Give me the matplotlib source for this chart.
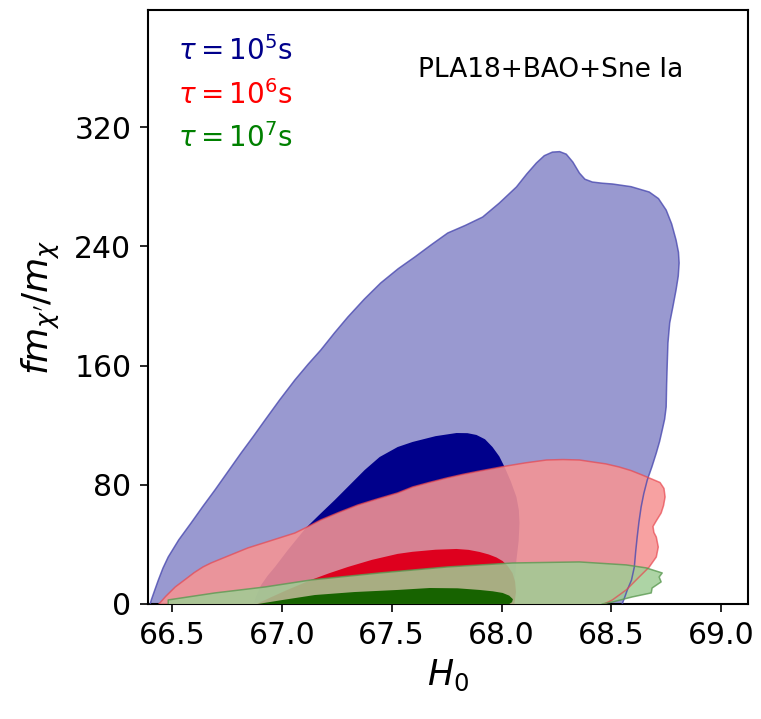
import numpy as np
import matplotlib
matplotlib.use("Agg")
import matplotlib.pyplot as plt

# 2D posterior contours (H0, f m_chi'/m_chi) for three lifetimes
# outer = 95% region, inner = 68% region

# tau = 1e5 s
blue_2s_h0 = [66.400, 66.405, 66.420, 66.437, 66.458, 66.482, 66.530, 66.586, 66.640, 66.695,
              66.755, 66.814, 66.870, 66.923, 66.990, 67.059, 67.120, 67.177, 67.240, 67.300,
              67.375, 67.450, 67.530, 67.605, 67.680, 67.755, 67.835, 67.914, 67.990, 68.068,
              68.115, 68.159, 68.195, 68.232, 68.265, 68.295, 68.325, 68.355, 68.380, 68.414,
              68.460, 68.505, 68.590, 68.673, 68.715, 68.750, 68.775, 68.795, 68.806, 68.809,
              68.805, 68.795, 68.780, 68.766, 68.758, 68.755, 68.752, 68.750, 68.743, 68.732,
              68.720, 68.705, 68.685, 68.664, 68.648, 68.636, 68.626, 68.618, 68.611, 68.605,
              68.592, 68.573, 68.560, 68.550]
blue_2s_f = [0.0, 2.7, 9.0, 16.0, 24.0, 31.5, 43.0, 54.3, 65.5, 76.5,
             89.0, 101.3, 112.5, 123.4, 137.0, 150.3, 161.0, 170.4, 182.0, 192.5,
             204.5, 215.4, 225.0, 232.8, 241.0, 248.9, 254.0, 259.6, 269.0, 279.8,
             288.5, 295.9, 300.8, 303.2, 303.5, 301.8, 296.5, 289.1, 285.0, 283.1,
             282.3, 281.8, 280.0, 276.4, 272.0, 264.3, 255.0, 244.2, 236.0, 228.8,
             220.0, 210.7, 199.0, 188.5, 175.0, 161.7, 147.0, 132.2, 124.0, 116.7,
             109.0, 101.3, 92.0, 83.2, 74.0, 65.1, 55.0, 44.9, 35.0, 24.8,
             16.0, 9.4, 4.0, 0.0]
blue_1s_h0 = [66.870, 66.885, 66.905, 66.935, 66.968, 67.027, 67.070, 67.109, 67.175, 67.241,
              67.310, 67.377, 67.445, 67.527, 67.595, 67.700, 67.795, 67.845, 67.886, 67.925,
              67.959, 67.990, 68.014, 68.043, 68.068, 68.079, 68.082, 68.078, 68.068, 68.063,
              68.059, 68.052, 68.045]
blue_1s_f = [0.0, 6.0, 12.7, 19.0, 24.8, 36.2, 44.0, 51.0, 60.5, 69.8,
             80.0, 89.9, 98.6, 105.3, 108.7, 112.6, 114.7, 114.6, 113.4, 110.5,
             105.3, 99.0, 91.9, 82.0, 71.8, 63.0, 54.3, 42.0, 29.5, 20.0,
             11.4, 5.0, 0.0]

# tau = 1e6 s
red_2s_h0 = [66.440, 66.470, 66.514, 66.560, 66.600, 66.640, 66.677, 66.760, 66.845, 66.950,
             67.059, 67.120, 67.177, 67.260, 67.345, 67.435, 67.527, 67.595, 67.670, 67.750,
             67.825, 67.900, 68.023, 68.110, 68.205, 68.280, 68.355, 68.414, 68.475, 68.536,
             68.590, 68.641, 68.690, 68.722, 68.740, 68.745, 68.738, 68.727, 68.706, 68.690,
             68.694, 68.705, 68.714, 68.705, 68.673, 68.627, 68.568, 68.505, 68.468]
red_2s_f = [0.0, 5.0, 11.4, 16.5, 21.0, 24.8, 27.5, 32.5, 37.6, 42.5,
            47.6, 52.0, 56.4, 61.5, 66.4, 70.5, 74.5, 78.5, 81.5, 84.5,
            87.0, 89.2, 92.6, 94.7, 96.6, 96.9, 96.6, 95.3, 94.0, 91.9,
            89.5, 86.5, 83.5, 81.5, 77.5, 71.8, 66.0, 61.0, 56.0, 52.0,
            48.0, 44.9, 38.2, 31.5, 24.8, 18.1, 9.4, 2.7, 0.0]
red_1s_h0 = [66.885, 66.950, 67.030, 67.132, 67.215, 67.300, 67.410, 67.527, 67.595, 67.700,
             67.795, 67.850, 67.900, 67.942, 67.977, 68.005, 68.028, 68.050, 68.062, 68.066,
             68.059]
red_1s_f = [0.0, 4.5, 9.8, 16.1, 20.6, 24.8, 29.6, 33.6, 35.0, 36.4,
            36.9, 36.3, 34.9, 33.2, 31.2, 28.8, 25.5, 20.8, 15.0, 8.0,
            0.0]

# tau = 1e7 s
green_2s_h0 = [66.482, 66.482, 66.695, 66.923, 67.132, 67.445, 67.750, 68.050, 68.355, 68.568,
               68.659, 68.732, 68.718, 68.727, 68.686, 68.682, 68.595, 68.505, 68.459]
green_2s_f = [0.0, 2.7, 7.4, 11.4, 16.1, 20.8, 24.8, 27.5, 28.2, 26.2,
              24.2, 20.8, 18.1, 14.8, 10.7, 7.4, 4.7, 1.3, 0.0]
green_1s_h0 = [66.891, 67.000, 67.150, 67.330, 67.527, 67.673, 67.800, 67.900, 67.960, 68.005,
               68.035, 68.052, 68.048, 68.036]
green_1s_f = [0.0, 2.6, 6.0, 8.0, 9.4, 10.7, 10.5, 9.4, 8.5, 7.4,
              5.6, 3.2, 1.2, 0.0]

labels = [r'$\tau = 10^5$s', r'$\tau = 10^6$s', r'$\tau = 10^7$s']
label_colors = ['#00008b', '#ff0000', '#008000']

fig = plt.figure(figsize=(7.61, 7.19), dpi=100)
ax = fig.add_axes([0.1945, 0.16, 0.7885, 0.826])

# fills first, outlines on top so they show through the later layers
ax.fill(blue_2s_h0, blue_2s_f, color='#9999d0', lw=0, zorder=1)
ax.fill(blue_1s_h0, blue_1s_f, color='#00008b', lw=0, zorder=2)
ax.fill(red_2s_h0, red_2s_f, color='#f69494', alpha=0.88, lw=0, zorder=3)
ax.fill(red_1s_h0, red_1s_f, color='#de001e', lw=0, zorder=4)
ax.fill(green_2s_h0, green_2s_f, color='#9fcd95', alpha=0.85, lw=0, zorder=5)
ax.fill(green_1s_h0, green_1s_f, color='#176300', lw=0, zorder=6)

ax.plot(blue_2s_h0, blue_2s_f, color='#4a4ab0', lw=1.1, alpha=0.8, zorder=7)
ax.plot(red_2s_h0, red_2s_f, color='#e8474f', lw=1.1, alpha=0.7, zorder=7)
ax.plot(green_2s_h0, green_2s_f, color='#5b9a52', lw=1.1, alpha=0.8, zorder=7)

ax.set_xlim(66.39, 69.123)
ax.set_ylim(0, 398.5)
ax.set_xticks([66.5, 67.0, 67.5, 68.0, 68.5, 69.0])
ax.set_yticks([0, 80, 160, 240, 320])
ax.tick_params(labelsize=21.5, length=6, width=1.2, pad=6)
for s in ax.spines.values():
    s.set_linewidth(1.5)

ax.set_xlabel(r'$H_0$', fontsize=25, labelpad=6)
ax.set_ylabel(r"$fm_{\chi'}/m_{\chi}$", fontsize=26, labelpad=9)

for i, (lab, c) in enumerate(zip(labels, label_colors)):
    ax.text(0.05, 0.916 - i * 0.0735, lab, color=c, fontsize=20,
            transform=ax.transAxes, va='baseline', ha='left')

ax.text(0.45, 0.887, 'PLA18+BAO+Sne Ia', fontsize=19, transform=ax.transAxes,
        va='baseline', ha='left')

fig.savefig('out.png', dpi=100)
